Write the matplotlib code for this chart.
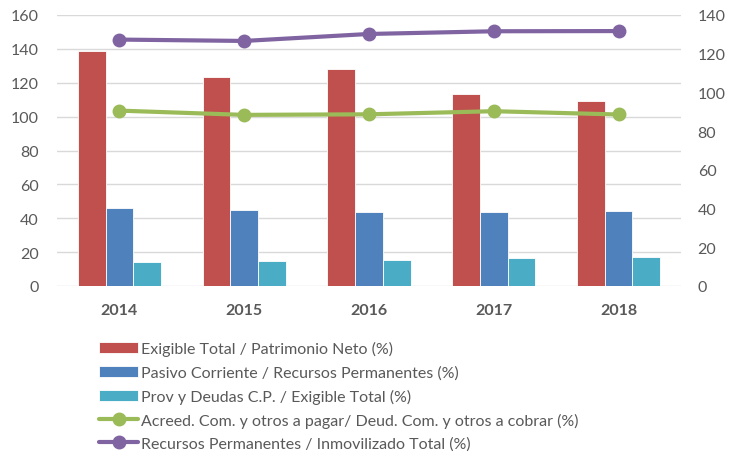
import numpy as np
import matplotlib
matplotlib.use('Agg')
import matplotlib.pyplot as plt

plt.rcParams['font.family'] = ['Lato', 'DejaVu Sans']

## Data
years = ['2014', '2015', '2016', '2017', '2018']
exig_patr = [139.0, 123.2, 128.3, 113.3, 109.5]       # left axis
pasivo_rec = [45.8, 44.6, 43.9, 43.4, 44.3]           # left axis
prov_exig = [14.3, 14.9, 15.5, 16.6, 17.4]            # left axis
acreed_deud = [90.6, 88.4, 88.7, 90.3, 88.6]          # right axis
rec_inmov = [127.3, 126.6, 130.2, 131.6, 131.7]       # right axis

labels = ['Exigible Total / Patrimonio Neto (%)',
          'Pasivo Corriente / Recursos Permanentes (%)',
          'Prov y Deudas C.P. / Exigible Total (%)',
          'Acreed. Com. y otros a pagar/ Deud. Com. y otros a cobrar (%)',
          'Recursos Permanentes / Inmovilizado Total (%)']
colors = ['#C0504D', '#4F81BD', '#4BACC6', '#9BBB59', '#8064A2']
txt_col = '#595959'

fig = plt.figure(figsize=(7.29, 4.52), dpi=100)
ax = fig.add_axes([57/729, 1 - 287/452, 624/729, 271/452])
ax2 = ax.twinx()

x = np.arange(len(years))
w = 0.222
handles = []
for i, vals in enumerate([exig_patr, pasivo_rec, prov_exig]):
    b = ax.bar(x + (i - 1) * w, vals, w, color=colors[i], edgecolor='white',
               linewidth=0.6, label=labels[i], zorder=3)
    handles.append(b)

for vals, c, lab in [(acreed_deud, colors[3], labels[3]), (rec_inmov, colors[4], labels[4])]:
    l, = ax2.plot(x, vals, color=c, lw=3, marker='o', markersize=9, label=lab,
                  solid_capstyle='round')
    handles.append(l)

ax.set_xlim(-0.5, len(years) - 0.5)
ax.set_ylim(0, 160)
ax.set_yticks(range(0, 161, 20))
ax2.set_ylim(0, 140)
ax2.set_yticks(range(0, 141, 20))

ax.grid(axis='y', color='#D9D9D9', lw=1, zorder=0)
ax.set_axisbelow(True)
for a in (ax, ax2):
    for s in a.spines.values():
        s.set_visible(False)
    a.tick_params(length=0, labelsize=11.5, labelcolor=txt_col)
ax.tick_params(axis='y', pad=13)
ax2.tick_params(axis='y', pad=12)

ax.set_xticks(x)
ax.set_xticklabels(years, fontweight='bold', fontsize=11.5)
ax.tick_params(axis='x', pad=12)

leg = fig.legend(handles, labels, loc='upper left', bbox_to_anchor=(93/729, 1 - 336/452),
                 frameon=False, fontsize=11.5, handlelength=2.4, handletextpad=0.2,
                 labelspacing=0.56, borderaxespad=0)
for t in leg.get_texts():
    t.set_color(txt_col)

fig.savefig('out.png', dpi=100)
